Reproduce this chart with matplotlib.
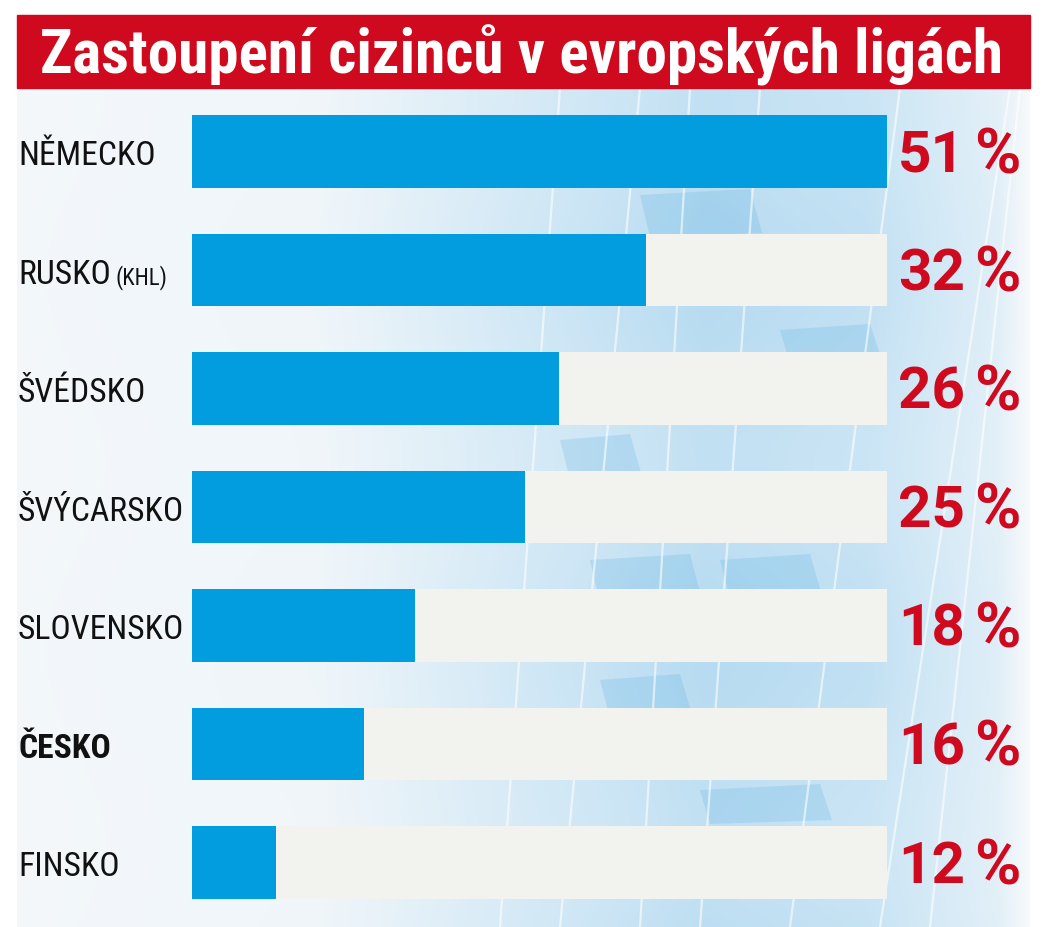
import numpy as np
import matplotlib
matplotlib.use("Agg")
import matplotlib.pyplot as plt
from matplotlib import transforms, font_manager
from matplotlib.patches import Rectangle, Polygon
from matplotlib.colors import LinearSegmentedColormap

# ---------------- data ----------------
title = "Zastoupení cizinců v evropských ligách"
countries = ["NĚMECKO", "RUSKO", "ŠVÉDSKO", "ŠVÝCARSKO", "SLOVENSKO", "ČESKO", "FINSKO"]
suffixes = ["", "(KHL)", "", "", "", "", ""]
values = [51, 32, 26, 25, 18, 16, 12]                  # printed percentages
bar_lengths = [51.1, 33.3, 26.9, 24.4, 16.4, 12.6, 6.2]  # lengths as drawn in the graphic (% units)
track_max = 51
highlight = "ČESKO"

# ---------------- styles ----------------
RED = "#cf0a1f"
BLUE = "#029ddf"
TRACK = "#f2f2ef"
W, H = 1050, 927

names = {f.name for f in font_manager.fontManager.ttflist}
FAM = "DejaVu Sans"
for cand in ["Roboto Condensed", "Open Sans Condensed", "Liberation Sans Narrow",
             "Noto Sans Condensed", "DejaVu Sans Condensed"]:
    if cand in names:
        FAM = cand
        break
PFAM = "Roboto" if "Roboto" in names else "DejaVu Sans"
STRETCH = "condensed"

fig = plt.figure(figsize=(W / 100, H / 100), dpi=100)
fig.patch.set_facecolor("white")
renderer = fig.canvas.get_renderer()


def fit(t, target_w):
    for _ in range(3):
        w = t.get_window_extent(renderer).width
        t.set_fontsize(t.get_fontsize() * target_w / w)


# background decoration
bg = fig.add_axes([0, 0, 1, 1], zorder=0)
bg.set_xlim(0, W)
bg.set_ylim(H, 0)
bg.axis("off")
xs = np.linspace(0, 1, 400)
stops_x = [0, 0.30, 0.50, 0.68, 0.84, 0.97, 1.0]
stops_c = [0.05, 0.10, 0.45, 0.72, 0.62, 0.28, 0.0]
prof = np.interp(xs, stops_x, stops_c)
ys = np.linspace(0, 1, 300)
vprof = 0.85 + 0.15 * np.sin(ys * 7.0) ** 2
img = np.outer(vprof, prof)
cmap = LinearSegmentedColormap.from_list("bgc", ["#f7f9fb", "#cde6f5", "#9bcdec"])
bg.imshow(img, cmap=cmap, vmin=0, vmax=1, extent=[17, 1030, 927, 88], aspect="auto",
          interpolation="bicubic", zorder=0)
# soft darker glass panes
panes = [(640, 195, 110, 38), (780, 330, 90, 30), (590, 560, 100, 40), (720, 560, 90, 35),
         (600, 680, 80, 34), (700, 790, 120, 30), (560, 440, 70, 36)]
for px, py, pw, ph in panes:
    bg.add_patch(Polygon([(px, py), (px + pw, py - 6), (px + pw + 12, py + ph), (px + 10, py + ph + 4)],
                         closed=True, color="#4aa8e0", alpha=0.2, lw=0, zorder=0.5))
for x0, x1 in [(560, 640), (700, 760), (790, 900), (880, 1010), (930, 1020), (640, 690), (500, 560)]:
    bg.plot([x0, x1], [927, 88], color="white", lw=1.6, alpha=0.6, zorder=1)

# title banner
bg.add_patch(Rectangle((17, 15), 1013, 73, color=RED, zorder=2))
tt = bg.text(40, 55, title, color="white", fontsize=40, fontweight="bold",
             family=FAM, fontstretch=STRETCH, ha="left", va="center", zorder=3)
fit(tt, 965)

# bars
ax = fig.add_axes([192 / W, 1 - 899 / H, (887 - 192) / W, 784 / H], zorder=2)
ax.patch.set_alpha(0)
y = np.arange(len(countries))
bh = 0.616
ax.barh(y, [track_max] * len(countries), height=bh, color=TRACK, zorder=1)
ax.barh(y, bar_lengths, height=bh, color=BLUE, zorder=2)
ax.set_xlim(0, track_max)
ax.set_ylim(len(countries) - 1 + bh / 2, -bh / 2)
ax.axis("off")

tr = transforms.blended_transform_factory(fig.transFigure, ax.transData)

# label size from the widest label
probe = ax.text(0, 0, "ŠVÝCARSKO", fontsize=30, family=FAM, fontstretch=STRETCH)
fit(probe, 166)
lab_fs = probe.get_fontsize()
probe.remove()
pct_fs = 42

for yi, name, suf, val in zip(y, countries, suffixes, values):
    bold = name == highlight
    t = ax.text(18 / W, yi + 0.04, name, transform=tr, fontsize=lab_fs,
                fontweight="bold" if bold else "normal", family=FAM, fontstretch=STRETCH,
                color="#111111", ha="left", va="center", clip_on=False)
    if suf:
        bb = t.get_window_extent(renderer)
        ax.text((bb.x1 + 5) / W, yi + 0.06, suf, transform=tr, fontsize=lab_fs * 0.68,
                family=FAM, fontstretch=STRETCH, color="#111111", ha="left", va="center",
                clip_on=False)
    tn = ax.text(898 / W, yi + 0.04, f"{val}", transform=tr, fontsize=pct_fs, fontweight="bold",
                 family=PFAM, color=RED, ha="left", va="center", clip_on=False)
    bb = tn.get_window_extent(renderer)
    ax.text((bb.x1 + 9) / W, yi + 0.04, "%", transform=tr, fontsize=pct_fs * 1.08, fontweight="bold",
            family=PFAM, color=RED, ha="left", va="center", clip_on=False)

fig.savefig("out.png", dpi=100, facecolor="white")
